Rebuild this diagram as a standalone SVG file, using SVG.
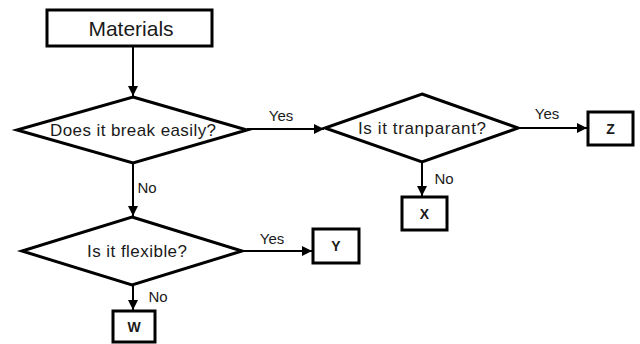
<svg xmlns="http://www.w3.org/2000/svg" width="640" height="344" viewBox="0 0 640 344">
<defs>
<marker id="ah" viewBox="0 0 10 10" refX="10" refY="5" markerWidth="10" markerHeight="10" markerUnits="userSpaceOnUse" orient="auto">
<path d="M0,0 L10,5 L0,10 z" fill="#000"/>
</marker>
<style>
.box{fill:#fff;stroke:#000;stroke-width:3}
.dia{fill:#fff;stroke:#000;stroke-width:3;stroke-linejoin:miter}
.c{fill:none;stroke:#000;stroke-width:2;marker-end:url(#ah)}
.t{font-family:"Liberation Sans",Arial,sans-serif;fill:#1a1a1a;text-anchor:middle;dominant-baseline:central}
.lbl{font-family:"Liberation Sans",Arial,sans-serif;fill:#1a1a1a;font-size:15px;text-anchor:middle;dominant-baseline:central}
.b{font-weight:bold;font-size:14px}
</style>
</defs>
<rect width="640" height="344" fill="#fff"/>
<g id="connectors">
<line class="c" x1="133" y1="47" x2="133" y2="96"/>
<line class="c" x1="247" y1="129" x2="324" y2="129"/>
<line class="c" x1="518" y1="128" x2="587" y2="128"/>
<line class="c" x1="422" y1="162" x2="422" y2="196"/>
<line class="c" x1="133" y1="163" x2="133" y2="216"/>
<line class="c" x1="242" y1="251" x2="312" y2="251"/>
<line class="c" x1="133" y1="285" x2="133" y2="310"/>
<text class="lbl" x="281" y="115">Yes</text>
<text class="lbl" x="547" y="113">Yes</text>
<text class="lbl" x="444" y="178">No</text>
<text class="lbl" x="147" y="187">No</text>
<text class="lbl" x="272" y="238">Yes</text>
<text class="lbl" x="158" y="296">No</text>
</g>
<g id="materials">
<rect class="box" x="47" y="10" width="165" height="36"/>
<text class="t" x="131" y="28" font-size="21">Materials</text>
</g>
<g id="break">
<polygon class="dia" points="133,97 247,130 133,163 17,130"/>
<text class="t" x="133" y="130" font-size="17" textLength="166" lengthAdjust="spacing">Does it break easily?</text>
</g>
<g id="transparent">
<polygon class="dia" points="422,94 518,128 422,162 325,128"/>
<text class="t" x="422" y="128" font-size="17" textLength="128" lengthAdjust="spacing">Is it tranparant?</text>
</g>
<g id="flexible">
<polygon class="dia" points="132,217 242,251 132,285 22,251"/>
<text class="t" x="137" y="251" font-size="17" textLength="100" lengthAdjust="spacing">Is it flexible?</text>
</g>
<g id="z">
<rect class="box" x="588" y="112" width="45" height="33"/>
<text class="t b" x="610.5" y="128.5">Z</text>
</g>
<g id="x">
<rect class="box" x="402" y="197" width="45" height="33"/>
<text class="t b" x="424.5" y="213.5">X</text>
</g>
<g id="y">
<rect class="box" x="313" y="229" width="46" height="34"/>
<text class="t b" x="336" y="246">Y</text>
</g>
<g id="w">
<rect class="box" x="113" y="311" width="42" height="31"/>
<text class="t b" x="134" y="326.5">W</text>
</g>
</svg>
